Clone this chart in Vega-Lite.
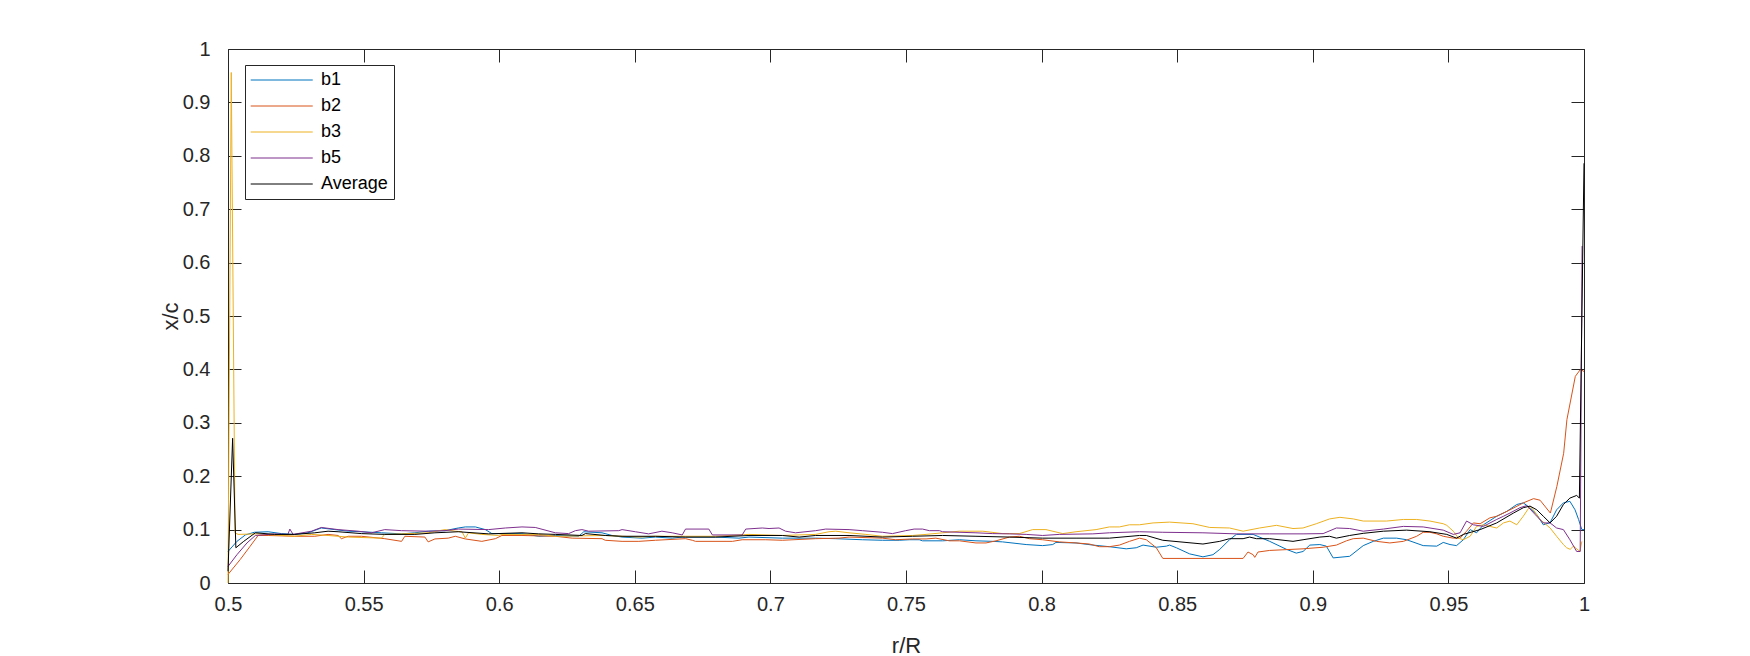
{
"$schema": "https://vega.github.io/schema/vega-lite/v6.json",
"width": 1356, "height": 534,
"autosize": {"type": "none"},
"padding": {"left": 228, "top": 49, "right": 166, "bottom": 73},
"background": "white",
"config": {"view": {"stroke": null}, "font": "Liberation Sans"},
"data": {"values": [
{"s":"b1","x":0.5,"y":0.059},{"s":"b1","x":0.5033,"y":0.078},{"s":"b1","x":0.5064,"y":0.09},{"s":"b1","x":0.5097,"y":0.095},{"s":"b1","x":0.5148,"y":0.096},{"s":"b1","x":0.5197,"y":0.0925},{"s":"b1","x":0.5246,"y":0.091},{"s":"b1","x":0.5295,"y":0.094},{"s":"b1","x":0.5344,"y":0.103},{"s":"b1","x":0.5394,"y":0.1},{"s":"b1","x":0.5443,"y":0.097},{"s":"b1","x":0.5492,"y":0.096},{"s":"b1","x":0.5566,"y":0.094},{"s":"b1","x":0.564,"y":0.092},{"s":"b1","x":0.5689,"y":0.094},{"s":"b1","x":0.5738,"y":0.097},{"s":"b1","x":0.58,"y":0.098},{"s":"b1","x":0.5849,"y":0.103},{"s":"b1","x":0.5875,"y":0.105},{"s":"b1","x":0.5912,"y":0.105},{"s":"b1","x":0.5949,"y":0.1},{"s":"b1","x":0.5973,"y":0.0925},{"s":"b1","x":0.6084,"y":0.0925},{"s":"b1","x":0.6146,"y":0.0875},{"s":"b1","x":0.6207,"y":0.089},{"s":"b1","x":0.6293,"y":0.0875},{"s":"b1","x":0.6312,"y":0.096},{"s":"b1","x":0.6379,"y":0.094},{"s":"b1","x":0.6416,"y":0.089},{"s":"b1","x":0.6453,"y":0.086},{"s":"b1","x":0.6527,"y":0.084},{"s":"b1","x":0.6576,"y":0.086},{"s":"b1","x":0.6638,"y":0.084},{"s":"b1","x":0.6675,"y":0.086},{"s":"b1","x":0.6798,"y":0.086},{"s":"b1","x":0.6884,"y":0.084},{"s":"b1","x":0.6921,"y":0.086},{"s":"b1","x":0.7044,"y":0.084},{"s":"b1","x":0.7167,"y":0.084},{"s":"b1","x":0.7241,"y":0.083},{"s":"b1","x":0.7339,"y":0.081},{"s":"b1","x":0.7413,"y":0.08},{"s":"b1","x":0.7475,"y":0.08},{"s":"b1","x":0.7512,"y":0.081},{"s":"b1","x":0.7549,"y":0.081},{"s":"b1","x":0.7561,"y":0.079},{"s":"b1","x":0.7635,"y":0.079},{"s":"b1","x":0.7697,"y":0.081},{"s":"b1","x":0.7758,"y":0.079},{"s":"b1","x":0.782,"y":0.078},{"s":"b1","x":0.7856,"y":0.077},{"s":"b1","x":0.7943,"y":0.072},{"s":"b1","x":0.8004,"y":0.07},{"s":"b1","x":0.8041,"y":0.072},{"s":"b1","x":0.8053,"y":0.076},{"s":"b1","x":0.8127,"y":0.075},{"s":"b1","x":0.8189,"y":0.071},{"s":"b1","x":0.825,"y":0.068},{"s":"b1","x":0.8312,"y":0.064},{"s":"b1","x":0.8349,"y":0.066},{"s":"b1","x":0.8374,"y":0.071},{"s":"b1","x":0.8423,"y":0.067},{"s":"b1","x":0.846,"y":0.069},{"s":"b1","x":0.8472,"y":0.071},{"s":"b1","x":0.8497,"y":0.066},{"s":"b1","x":0.8546,"y":0.0545},{"s":"b1","x":0.8595,"y":0.049},{"s":"b1","x":0.8632,"y":0.053},{"s":"b1","x":0.8657,"y":0.063},{"s":"b1","x":0.8693,"y":0.081},{"s":"b1","x":0.8718,"y":0.091},{"s":"b1","x":0.878,"y":0.091},{"s":"b1","x":0.8841,"y":0.078},{"s":"b1","x":0.8903,"y":0.063},{"s":"b1","x":0.8939,"y":0.056},{"s":"b1","x":0.8964,"y":0.059},{"s":"b1","x":0.8989,"y":0.071},{"s":"b1","x":0.9026,"y":0.072},{"s":"b1","x":0.905,"y":0.069},{"s":"b1","x":0.9075,"y":0.047},{"s":"b1","x":0.9136,"y":0.05},{"s":"b1","x":0.9186,"y":0.07},{"s":"b1","x":0.9223,"y":0.078},{"s":"b1","x":0.926,"y":0.084},{"s":"b1","x":0.9309,"y":0.084},{"s":"b1","x":0.9346,"y":0.081},{"s":"b1","x":0.9407,"y":0.07},{"s":"b1","x":0.9457,"y":0.069},{"s":"b1","x":0.9481,"y":0.076},{"s":"b1","x":0.9506,"y":0.072},{"s":"b1","x":0.953,"y":0.07},{"s":"b1","x":0.9555,"y":0.081},{"s":"b1","x":0.958,"y":0.1},{"s":"b1","x":0.9604,"y":0.094},{"s":"b1","x":0.9629,"y":0.109},{"s":"b1","x":0.9678,"y":0.125},{"s":"b1","x":0.9715,"y":0.134},{"s":"b1","x":0.9752,"y":0.147},{"s":"b1","x":0.9776,"y":0.15},{"s":"b1","x":0.9801,"y":0.141},{"s":"b1","x":0.9826,"y":0.128},{"s":"b1","x":0.985,"y":0.109},{"s":"b1","x":0.9875,"y":0.113},{"s":"b1","x":0.9899,"y":0.137},{"s":"b1","x":0.9924,"y":0.15},{"s":"b1","x":0.9948,"y":0.153},{"s":"b1","x":0.9967,"y":0.137},{"s":"b1","x":0.998,"y":0.119},{"s":"b1","x":0.9992,"y":0.1},{"s":"b1","x":1.0,"y":0.1},
{"s":"b2","x":0.5,"y":0.016},{"s":"b2","x":0.5045,"y":0.044},{"s":"b2","x":0.5082,"y":0.069},{"s":"b2","x":0.5111,"y":0.089},{"s":"b2","x":0.5148,"y":0.089},{"s":"b2","x":0.5246,"y":0.0875},{"s":"b2","x":0.532,"y":0.0875},{"s":"b2","x":0.5369,"y":0.091},{"s":"b2","x":0.5406,"y":0.089},{"s":"b2","x":0.5418,"y":0.083},{"s":"b2","x":0.5443,"y":0.0875},{"s":"b2","x":0.5492,"y":0.0875},{"s":"b2","x":0.5578,"y":0.083},{"s":"b2","x":0.564,"y":0.078},{"s":"b2","x":0.5652,"y":0.0875},{"s":"b2","x":0.5726,"y":0.086},{"s":"b2","x":0.5738,"y":0.077},{"s":"b2","x":0.5763,"y":0.0825},{"s":"b2","x":0.5812,"y":0.084},{"s":"b2","x":0.5838,"y":0.0875},{"s":"b2","x":0.5875,"y":0.0825},{"s":"b2","x":0.5936,"y":0.078},{"s":"b2","x":0.5986,"y":0.083},{"s":"b2","x":0.601,"y":0.089},{"s":"b2","x":0.6084,"y":0.089},{"s":"b2","x":0.6207,"y":0.0875},{"s":"b2","x":0.6269,"y":0.084},{"s":"b2","x":0.6379,"y":0.083},{"s":"b2","x":0.6391,"y":0.08},{"s":"b2","x":0.6453,"y":0.078},{"s":"b2","x":0.6515,"y":0.078},{"s":"b2","x":0.6576,"y":0.08},{"s":"b2","x":0.6687,"y":0.083},{"s":"b2","x":0.6712,"y":0.08},{"s":"b2","x":0.6724,"y":0.078},{"s":"b2","x":0.686,"y":0.078},{"s":"b2","x":0.6896,"y":0.081},{"s":"b2","x":0.6983,"y":0.081},{"s":"b2","x":0.7044,"y":0.08},{"s":"b2","x":0.7167,"y":0.083},{"s":"b2","x":0.7253,"y":0.084},{"s":"b2","x":0.729,"y":0.086},{"s":"b2","x":0.7413,"y":0.084},{"s":"b2","x":0.7462,"y":0.081},{"s":"b2","x":0.7524,"y":0.0825},{"s":"b2","x":0.7574,"y":0.0825},{"s":"b2","x":0.761,"y":0.084},{"s":"b2","x":0.766,"y":0.079},{"s":"b2","x":0.7697,"y":0.079},{"s":"b2","x":0.7758,"y":0.075},{"s":"b2","x":0.7795,"y":0.075},{"s":"b2","x":0.7832,"y":0.079},{"s":"b2","x":0.7881,"y":0.086},{"s":"b2","x":0.7918,"y":0.0875},{"s":"b2","x":0.7955,"y":0.083},{"s":"b2","x":0.8004,"y":0.081},{"s":"b2","x":0.8065,"y":0.077},{"s":"b2","x":0.8127,"y":0.075},{"s":"b2","x":0.8176,"y":0.073},{"s":"b2","x":0.8213,"y":0.068},{"s":"b2","x":0.825,"y":0.068},{"s":"b2","x":0.8287,"y":0.071},{"s":"b2","x":0.8324,"y":0.078},{"s":"b2","x":0.8361,"y":0.084},{"s":"b2","x":0.8386,"y":0.081},{"s":"b2","x":0.8423,"y":0.066},{"s":"b2","x":0.8447,"y":0.046},{"s":"b2","x":0.8743,"y":0.046},{"s":"b2","x":0.8761,"y":0.058},{"s":"b2","x":0.878,"y":0.053},{"s":"b2","x":0.8786,"y":0.048},{"s":"b2","x":0.8798,"y":0.058},{"s":"b2","x":0.8841,"y":0.061},{"s":"b2","x":0.8964,"y":0.064},{"s":"b2","x":0.9038,"y":0.067},{"s":"b2","x":0.9087,"y":0.071},{"s":"b2","x":0.9124,"y":0.079},{"s":"b2","x":0.9149,"y":0.083},{"s":"b2","x":0.9186,"y":0.084},{"s":"b2","x":0.9235,"y":0.078},{"s":"b2","x":0.9284,"y":0.075},{"s":"b2","x":0.9334,"y":0.078},{"s":"b2","x":0.9383,"y":0.0875},{"s":"b2","x":0.9407,"y":0.095},{"s":"b2","x":0.9432,"y":0.095},{"s":"b2","x":0.9457,"y":0.092},{"s":"b2","x":0.9481,"y":0.0875},{"s":"b2","x":0.9518,"y":0.084},{"s":"b2","x":0.9543,"y":0.084},{"s":"b2","x":0.9567,"y":0.097},{"s":"b2","x":0.9592,"y":0.1125},{"s":"b2","x":0.9617,"y":0.111},{"s":"b2","x":0.9653,"y":0.122},{"s":"b2","x":0.9678,"y":0.125},{"s":"b2","x":0.9727,"y":0.137},{"s":"b2","x":0.9776,"y":0.15},{"s":"b2","x":0.9814,"y":0.158},{"s":"b2","x":0.9838,"y":0.155},{"s":"b2","x":0.9876,"y":0.131},{"s":"b2","x":0.99,"y":0.181},{"s":"b2","x":0.9925,"y":0.243},{"s":"b2","x":0.9937,"y":0.306},{"s":"b2","x":0.9968,"y":0.387},{"s":"b2","x":0.9987,"y":0.4},{"s":"b2","x":1.0,"y":0.396},
{"s":"b3","x":0.5,"y":0.0},{"s":"b3","x":0.5012,"y":0.956},{"s":"b3","x":0.5026,"y":0.094},{"s":"b3","x":0.5037,"y":0.091},{"s":"b3","x":0.5111,"y":0.092},{"s":"b3","x":0.5246,"y":0.0875},{"s":"b3","x":0.5308,"y":0.091},{"s":"b3","x":0.5369,"y":0.089},{"s":"b3","x":0.5443,"y":0.086},{"s":"b3","x":0.5566,"y":0.084},{"s":"b3","x":0.5578,"y":0.091},{"s":"b3","x":0.564,"y":0.092},{"s":"b3","x":0.5738,"y":0.094},{"s":"b3","x":0.58,"y":0.1},{"s":"b3","x":0.5838,"y":0.097},{"s":"b3","x":0.5863,"y":0.096},{"s":"b3","x":0.5875,"y":0.084},{"s":"b3","x":0.5887,"y":0.094},{"s":"b3","x":0.5936,"y":0.091},{"s":"b3","x":0.5998,"y":0.089},{"s":"b3","x":0.601,"y":0.091},{"s":"b3","x":0.6146,"y":0.091},{"s":"b3","x":0.6207,"y":0.0875},{"s":"b3","x":0.6391,"y":0.089},{"s":"b3","x":0.6515,"y":0.086},{"s":"b3","x":0.6576,"y":0.0875},{"s":"b3","x":0.6687,"y":0.0875},{"s":"b3","x":0.6798,"y":0.0875},{"s":"b3","x":0.6921,"y":0.091},{"s":"b3","x":0.7044,"y":0.089},{"s":"b3","x":0.7167,"y":0.091},{"s":"b3","x":0.7216,"y":0.096},{"s":"b3","x":0.7241,"y":0.097},{"s":"b3","x":0.729,"y":0.094},{"s":"b3","x":0.7352,"y":0.091},{"s":"b3","x":0.7413,"y":0.0875},{"s":"b3","x":0.7524,"y":0.089},{"s":"b3","x":0.7574,"y":0.091},{"s":"b3","x":0.7635,"y":0.094},{"s":"b3","x":0.7697,"y":0.097},{"s":"b3","x":0.7783,"y":0.097},{"s":"b3","x":0.7856,"y":0.0925},{"s":"b3","x":0.7918,"y":0.0925},{"s":"b3","x":0.7967,"y":0.1},{"s":"b3","x":0.8016,"y":0.1},{"s":"b3","x":0.8078,"y":0.0925},{"s":"b3","x":0.8127,"y":0.096},{"s":"b3","x":0.8201,"y":0.1},{"s":"b3","x":0.825,"y":0.105},{"s":"b3","x":0.8287,"y":0.105},{"s":"b3","x":0.8324,"y":0.109},{"s":"b3","x":0.8361,"y":0.109},{"s":"b3","x":0.8411,"y":0.1125},{"s":"b3","x":0.8472,"y":0.114},{"s":"b3","x":0.8558,"y":0.111},{"s":"b3","x":0.862,"y":0.104},{"s":"b3","x":0.8693,"y":0.103},{"s":"b3","x":0.8743,"y":0.097},{"s":"b3","x":0.8804,"y":0.103},{"s":"b3","x":0.8866,"y":0.108},{"s":"b3","x":0.8927,"y":0.102},{"s":"b3","x":0.8964,"y":0.103},{"s":"b3","x":0.9013,"y":0.111},{"s":"b3","x":0.9062,"y":0.12},{"s":"b3","x":0.91,"y":0.123},{"s":"b3","x":0.9149,"y":0.12},{"s":"b3","x":0.9186,"y":0.116},{"s":"b3","x":0.9272,"y":0.116},{"s":"b3","x":0.9334,"y":0.119},{"s":"b3","x":0.9383,"y":0.119},{"s":"b3","x":0.9432,"y":0.116},{"s":"b3","x":0.9481,"y":0.111},{"s":"b3","x":0.9494,"y":0.108},{"s":"b3","x":0.9518,"y":0.097},{"s":"b3","x":0.9537,"y":0.084},{"s":"b3","x":0.9555,"y":0.081},{"s":"b3","x":0.958,"y":0.0875},{"s":"b3","x":0.9604,"y":0.106},{"s":"b3","x":0.9629,"y":0.109},{"s":"b3","x":0.9653,"y":0.106},{"s":"b3","x":0.9678,"y":0.103},{"s":"b3","x":0.9703,"y":0.1125},{"s":"b3","x":0.9727,"y":0.116},{"s":"b3","x":0.9752,"y":0.109},{"s":"b3","x":0.9776,"y":0.125},{"s":"b3","x":0.9801,"y":0.144},{"s":"b3","x":0.9813,"y":0.137},{"s":"b3","x":0.9838,"y":0.119},{"s":"b3","x":0.9875,"y":0.103},{"s":"b3","x":0.9899,"y":0.0875},{"s":"b3","x":0.9924,"y":0.072},{"s":"b3","x":0.9936,"y":0.066},{"s":"b3","x":0.9949,"y":0.063},{"s":"b3","x":0.9961,"y":0.069},{"s":"b3","x":0.9985,"y":0.059},{"s":"b3","x":0.9992,"y":0.078},
{"s":"b5","x":0.5,"y":0.031},{"s":"b5","x":0.5033,"y":0.053},{"s":"b5","x":0.507,"y":0.075},{"s":"b5","x":0.5101,"y":0.089},{"s":"b5","x":0.5172,"y":0.092},{"s":"b5","x":0.5221,"y":0.091},{"s":"b5","x":0.5228,"y":0.101},{"s":"b5","x":0.524,"y":0.091},{"s":"b5","x":0.5308,"y":0.097},{"s":"b5","x":0.5344,"y":0.104},{"s":"b5","x":0.5406,"y":0.1},{"s":"b5","x":0.548,"y":0.097},{"s":"b5","x":0.5529,"y":0.094},{"s":"b5","x":0.5578,"y":0.1},{"s":"b5","x":0.564,"y":0.098},{"s":"b5","x":0.5738,"y":0.097},{"s":"b5","x":0.58,"y":0.098},{"s":"b5","x":0.5849,"y":0.101},{"s":"b5","x":0.5961,"y":0.1},{"s":"b5","x":0.6023,"y":0.103},{"s":"b5","x":0.6084,"y":0.105},{"s":"b5","x":0.6133,"y":0.104},{"s":"b5","x":0.6207,"y":0.094},{"s":"b5","x":0.6256,"y":0.0925},{"s":"b5","x":0.6281,"y":0.098},{"s":"b5","x":0.6305,"y":0.1},{"s":"b5","x":0.633,"y":0.097},{"s":"b5","x":0.6441,"y":0.098},{"s":"b5","x":0.6453,"y":0.1},{"s":"b5","x":0.6502,"y":0.096},{"s":"b5","x":0.6551,"y":0.092},{"s":"b5","x":0.66,"y":0.097},{"s":"b5","x":0.6638,"y":0.094},{"s":"b5","x":0.6675,"y":0.09},{"s":"b5","x":0.6687,"y":0.101},{"s":"b5","x":0.6773,"y":0.101},{"s":"b5","x":0.6786,"y":0.09},{"s":"b5","x":0.6896,"y":0.09},{"s":"b5","x":0.6909,"y":0.101},{"s":"b5","x":0.697,"y":0.103},{"s":"b5","x":0.6995,"y":0.102},{"s":"b5","x":0.7032,"y":0.103},{"s":"b5","x":0.7056,"y":0.097},{"s":"b5","x":0.7093,"y":0.094},{"s":"b5","x":0.7167,"y":0.098},{"s":"b5","x":0.7204,"y":0.101},{"s":"b5","x":0.729,"y":0.1},{"s":"b5","x":0.7339,"y":0.098},{"s":"b5","x":0.7413,"y":0.095},{"s":"b5","x":0.745,"y":0.0925},{"s":"b5","x":0.7499,"y":0.098},{"s":"b5","x":0.753,"y":0.101},{"s":"b5","x":0.7561,"y":0.101},{"s":"b5","x":0.7586,"y":0.098},{"s":"b5","x":0.7623,"y":0.098},{"s":"b5","x":0.7635,"y":0.096},{"s":"b5","x":0.7758,"y":0.094},{"s":"b5","x":0.782,"y":0.0925},{"s":"b5","x":0.7881,"y":0.092},{"s":"b5","x":0.7943,"y":0.091},{"s":"b5","x":0.8004,"y":0.089},{"s":"b5","x":0.8065,"y":0.091},{"s":"b5","x":0.8189,"y":0.092},{"s":"b5","x":0.825,"y":0.094},{"s":"b5","x":0.8361,"y":0.096},{"s":"b5","x":0.8447,"y":0.095},{"s":"b5","x":0.8595,"y":0.094},{"s":"b5","x":0.8718,"y":0.092},{"s":"b5","x":0.8841,"y":0.092},{"s":"b5","x":0.8964,"y":0.092},{"s":"b5","x":0.9038,"y":0.0925},{"s":"b5","x":0.9087,"y":0.103},{"s":"b5","x":0.9136,"y":0.102},{"s":"b5","x":0.9186,"y":0.097},{"s":"b5","x":0.926,"y":0.101},{"s":"b5","x":0.9334,"y":0.106},{"s":"b5","x":0.9407,"y":0.105},{"s":"b5","x":0.9481,"y":0.099},{"s":"b5","x":0.9518,"y":0.091},{"s":"b5","x":0.9543,"y":0.094},{"s":"b5","x":0.9567,"y":0.116},{"s":"b5","x":0.9592,"y":0.109},{"s":"b5","x":0.9629,"y":0.106},{"s":"b5","x":0.9678,"y":0.119},{"s":"b5","x":0.9703,"y":0.125},{"s":"b5","x":0.9727,"y":0.131},{"s":"b5","x":0.9764,"y":0.141},{"s":"b5","x":0.9789,"y":0.145},{"s":"b5","x":0.9826,"y":0.125},{"s":"b5","x":0.985,"y":0.1125},{"s":"b5","x":0.9875,"y":0.1125},{"s":"b5","x":0.9899,"y":0.103},{"s":"b5","x":0.9924,"y":0.1},{"s":"b5","x":0.9948,"y":0.081},{"s":"b5","x":0.9973,"y":0.059},{"s":"b5","x":0.9986,"y":0.059},{"s":"b5","x":0.9993,"y":0.631},
{"s":"Average","x":0.5,"y":0.022},{"s":"Average","x":0.5017,"y":0.271},{"s":"Average","x":0.5029,"y":0.066},{"s":"Average","x":0.5058,"y":0.078},{"s":"Average","x":0.5101,"y":0.094},{"s":"Average","x":0.5172,"y":0.091},{"s":"Average","x":0.5246,"y":0.091},{"s":"Average","x":0.532,"y":0.094},{"s":"Average","x":0.5369,"y":0.097},{"s":"Average","x":0.5406,"y":0.096},{"s":"Average","x":0.5492,"y":0.0925},{"s":"Average","x":0.5578,"y":0.091},{"s":"Average","x":0.5689,"y":0.091},{"s":"Average","x":0.5763,"y":0.094},{"s":"Average","x":0.5849,"y":0.096},{"s":"Average","x":0.5961,"y":0.092},{"s":"Average","x":0.6084,"y":0.094},{"s":"Average","x":0.6146,"y":0.092},{"s":"Average","x":0.6207,"y":0.091},{"s":"Average","x":0.6305,"y":0.089},{"s":"Average","x":0.6318,"y":0.0925},{"s":"Average","x":0.6391,"y":0.089},{"s":"Average","x":0.6453,"y":0.0875},{"s":"Average","x":0.6576,"y":0.0875},{"s":"Average","x":0.6687,"y":0.086},{"s":"Average","x":0.6798,"y":0.086},{"s":"Average","x":0.6921,"y":0.089},{"s":"Average","x":0.7044,"y":0.089},{"s":"Average","x":0.7106,"y":0.086},{"s":"Average","x":0.7167,"y":0.089},{"s":"Average","x":0.729,"y":0.089},{"s":"Average","x":0.7413,"y":0.086},{"s":"Average","x":0.7524,"y":0.0875},{"s":"Average","x":0.7635,"y":0.089},{"s":"Average","x":0.7758,"y":0.0875},{"s":"Average","x":0.7881,"y":0.086},{"s":"Average","x":0.8004,"y":0.084},{"s":"Average","x":0.8127,"y":0.084},{"s":"Average","x":0.825,"y":0.084},{"s":"Average","x":0.8361,"y":0.089},{"s":"Average","x":0.8386,"y":0.089},{"s":"Average","x":0.8447,"y":0.08},{"s":"Average","x":0.8595,"y":0.073},{"s":"Average","x":0.8657,"y":0.078},{"s":"Average","x":0.8693,"y":0.083},{"s":"Average","x":0.8743,"y":0.083},{"s":"Average","x":0.8767,"y":0.086},{"s":"Average","x":0.8792,"y":0.083},{"s":"Average","x":0.8841,"y":0.083},{"s":"Average","x":0.8927,"y":0.078},{"s":"Average","x":0.8964,"y":0.081},{"s":"Average","x":0.9026,"y":0.086},{"s":"Average","x":0.9062,"y":0.0875},{"s":"Average","x":0.9087,"y":0.084},{"s":"Average","x":0.9136,"y":0.089},{"s":"Average","x":0.9186,"y":0.093},{"s":"Average","x":0.926,"y":0.097},{"s":"Average","x":0.9346,"y":0.099},{"s":"Average","x":0.9432,"y":0.096},{"s":"Average","x":0.9494,"y":0.091},{"s":"Average","x":0.953,"y":0.084},{"s":"Average","x":0.9555,"y":0.091},{"s":"Average","x":0.9617,"y":0.1},{"s":"Average","x":0.9678,"y":0.1125},{"s":"Average","x":0.974,"y":0.131},{"s":"Average","x":0.9776,"y":0.141},{"s":"Average","x":0.9801,"y":0.144},{"s":"Average","x":0.9826,"y":0.137},{"s":"Average","x":0.985,"y":0.125},{"s":"Average","x":0.9875,"y":0.1125},{"s":"Average","x":0.9899,"y":0.125},{"s":"Average","x":0.9924,"y":0.147},{"s":"Average","x":0.9948,"y":0.159},{"s":"Average","x":0.9973,"y":0.164},{"s":"Average","x":0.9983,"y":0.159},{"s":"Average","x":1.0,"y":0.786}
]},
"layer": [
{
"mark": {"type": "line", "strokeWidth": 1},
"encoding": {
"x": {"field": "x", "type": "quantitative",
 "scale": {"domain": [0.5, 1], "nice": false, "zero": false},
 "axis": {"orient": "bottom", "values": [0.5,0.55,0.6,0.65,0.7,0.75,0.8,0.85,0.9,0.95,1], "format": "~g", "grid": false,
  "tickSize": -13, "tickWidth": 1, "tickColor": "#262626", "domainColor": "#262626", "domainWidth": 1,
  "labelFont": "Liberation Sans", "labelFontSize": 20, "labelColor": "#262626", "labelPadding": 24, "labelFlush": false, "labelOverlap": false,
  "title": "r/R", "titleFont": "Liberation Sans", "titleFontSize": 22, "titleFontWeight": "normal", "titleColor": "#262626",
  "titleX": 678, "titleY": 62, "titleBaseline": "middle", "titleAlign": "center"}},
"y": {"field": "y", "type": "quantitative",
 "scale": {"domain": [0, 1], "nice": false, "zero": false},
 "axis": {"orient": "left", "values": [0,0.1,0.2,0.3,0.4,0.5,0.6,0.7,0.8,0.9,1], "format": "~g", "grid": false,
  "tickSize": -13, "tickWidth": 1, "tickColor": "#262626", "domainColor": "#262626", "domainWidth": 1,
  "labelFont": "Liberation Sans", "labelFontSize": 20, "labelColor": "#262626", "labelPadding": 31, "labelFlush": false, "labelOverlap": false,
  "title": "x/c", "titleFont": "Liberation Sans", "titleFontSize": 22, "titleFontWeight": "normal", "titleColor": "#262626",
  "titleX": -58, "titleY": 267, "titleAngle": 270, "titleBaseline": "middle", "titleAlign": "center"}},
"color": {"field": "s", "type": "nominal",
 "scale": {"domain": ["b1","b2","b3","b5","Average"], "range": ["#0072BD","#D95319","#EDB120","#7E2F8E","#000000"]},
 "legend": {"orient": "none", "legendX": 17, "legendY": 16, "title": null,
  "symbolType": "M-1.5,0H8.5", "symbolSize": 154, "symbolStrokeWidth": 1, "symbolFillColor": "transparent",
  "labelFont": "Liberation Sans", "labelFontSize": 18, "labelColor": "#000000", "labelOffset": 52,
  "strokeColor": "#262626", "fillColor": "white", "padding": 6, "rowPadding": 8}}
}
},
{
"mark": {"type": "line", "opacity": 0},
"encoding": {
"x": {"field": "x", "type": "quantitative",
 "axis": {"orient": "top", "values": [0.5,0.55,0.6,0.65,0.7,0.75,0.8,0.85,0.9,0.95,1], "labels": false, "grid": false, "title": null,
  "tickSize": -13, "tickWidth": 1, "tickColor": "#262626", "domainColor": "#262626", "domainWidth": 1}},
"y": {"field": "y", "type": "quantitative",
 "axis": {"orient": "right", "values": [0,0.1,0.2,0.3,0.4,0.5,0.6,0.7,0.8,0.9,1], "labels": false, "grid": false, "title": null,
  "tickSize": -13, "tickWidth": 1, "tickColor": "#262626", "domainColor": "#262626", "domainWidth": 1}}
}
}
],
"resolve": {"axis": {"x": "independent", "y": "independent"}}
}
